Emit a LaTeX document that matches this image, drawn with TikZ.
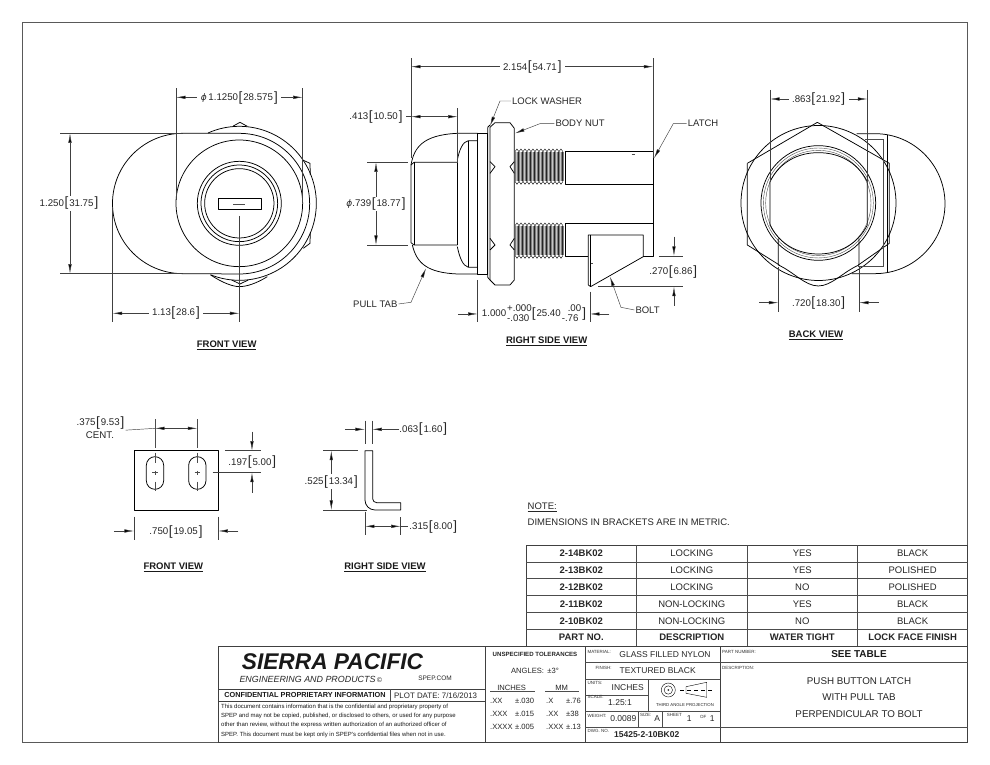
\documentclass[tikz,border=0pt]{standalone}
\usepackage{fontspec}
\setmainfont{Liberation Sans}
\usetikzlibrary{arrows.meta}

\newcommand{\brk}[1]{{\fontsize{13.5}{13.5}\selectfont\raisebox{-0.7pt}{#1}}}
\newcommand{\dimtxt}[2]{#1\kern0.5pt\brk{[}\kern1pt#2\kern1pt\brk{]}}
\newcommand{\tolstk}[2]{\raisebox{-5pt}{\vbox{\baselineskip=10pt\hbox{#1}\hbox{#2}}}}
\newcommand{\dia}{{\itshape\fontspec{DejaVu Sans}\fontsize{9}{9}\selectfont ϕ}}

\tikzset{
  partline/.style={line width=0.75pt, black, line join=round},
  thinline/.style={line width=0.4pt, black!70},
  dimline/.style={line width=0.45pt, black!75, >={Latex[length=9.5pt,width=3.4pt,fill=black]}},
  frameline/.style={line width=1pt, black!65},
  dimlabel/.style={font=\fontsize{9.7}{11}\selectfont, text=black!85, fill=white, inner ysep=1pt, inner xsep=3.5pt},
  leaderlabel/.style={font=\fontsize{9.5}{11}\selectfont, text=black!85, anchor=west, inner sep=1pt},
  viewtitle/.style={font=\fontsize{9.5}{11}\selectfont\bfseries, text=black!90},
  tabcell/.style={font=\fontsize{9.5}{11}\selectfont, text=black!85, inner sep=0pt},
  tabhead/.style={tabcell, font=\fontsize{9.5}{11}\selectfont\bfseries},
  tinylabel/.style={font=\fontsize{4.5}{5}\selectfont, text=black!80, anchor=west, inner sep=0pt},
  blockval/.style={font=\fontsize{8.5}{10}\selectfont, text=black!85, inner sep=0pt},
  blocksmall/.style={font=\fontsize{7.6}{9}\selectfont, text=black!85, inner sep=0pt, anchor=west},
  finetext/.style={font=\fontsize{6}{7}\selectfont, text=black!90, inner sep=0pt, anchor=west}
}

\begin{document}
\begin{tikzpicture}[x=1pt,y=-1pt]
  \useasboundingbox (0,0) rectangle (990,765);
  \fill[white] (0,0) rectangle (990,765);
  % sheet border
  \draw[frameline] (22.3,22.3) rectangle (967.5,742.7);

  % FRONT VIEW
  \begin{scope}[shift={(90,80)},x=0.3333pt,y=-0.3333pt]
    \draw[partline] (278,160) -- (448,160) arc (-90:90:211) -- (278,581) arc (90:270:210.5);
    \draw[partline] (448,370) circle (190);
    \draw[partline] (448,370) ++(-114:231) arc (-114:112:231);
    \draw[partline] (430,138) -- (450,127) -- (472,139);
    \draw[partline] (638,240) -- (660,250) -- (661,285);
    \draw[partline] (661,458) -- (660,490) -- (640,505);
    \draw[partline] (425,600) -- (450,612) -- (475,600);
    \draw[partline] (362,585) .. controls (400,610) and (430,620) .. (448,620) .. controls (470,620) and (500,610) .. (532,590);
    \draw[partline] (448,370) circle (126);
    \draw[partline] (448,370) circle (115);
    \draw[partline] (448,370) circle (104);
    \draw[partline] (385,355) rectangle (513,388);
    \draw[thinline] (430,372) -- (465,372);
    % dimensions
    \draw[dimline] (258,25) -- (258,360);
    \draw[dimline] (638,25) -- (638,370);
    \draw[dimline,<->] (258,52) -- (638,52);
    \node[dimlabel] (diacap) at (448,53) {\dia\,\dimtxt{1.1250}{28.575}};
    \draw[dimline] (-90,160) -- (278,160);
    \draw[dimline] (-90,581) -- (278,581);
    \draw[dimline,<->] (-60,160) -- (-60,581);
    \node[dimlabel] (heightcap) at (-63,370) {\dimtxt{1.250}{31.75}};
    \draw[dimline] (68,380) -- (68,725);
    \draw[dimline] (448,408) -- (448,725);
    \draw[dimline,<->] (68,700) -- (448,700);
    \node[dimlabel] (offsetcap) at (258,699) {\dimtxt{1.13}{28.6}};
    \node[viewtitle] (titlefront) at (410,796) {\underline{FRONT VIEW}};
  \end{scope}

  % RIGHT SIDE VIEW
  \begin{scope}[shift={(340,50)},x=0.3333pt,y=-0.3333pt]
    % pull tab
    \draw[partline] (213,345) .. controls (222,295) and (245,255) .. (352,250) -- (413,250);
    \draw[partline] (217,585) .. controls (230,640) and (262,668) .. (352,672) -- (413,672);
    \draw[partline] (213,345) -- (222,337) -- (352,337);
    \draw[partline] (213,345) -- (213,578) -- (222,585) -- (352,585);
    \draw[partline] (222,337) -- (222,585);
    \draw[partline] (352,250) -- (352,585);
    \draw[partline] (352,330) .. controls (358,300) and (368,275) .. (385,272) -- (413,272);
    \draw[partline] (352,590) .. controls (358,620) and (368,648) .. (385,652) -- (413,652);
    \draw[partline] (385,272) -- (385,652);
    % washer and nut
    \draw[partline] (413,250) rectangle (443,672);
    \draw[partline] (443,232) -- (450,225);
    \draw[partline] (443,232) -- (443,682) -- (450,690);
    \draw[partline] (450,232) -- (465,218) -- (510,218) -- (523,235) -- (523,690) -- (510,705) -- (465,705) -- (450,690) -- cycle;
    \draw[partline] (450,335) -- (465,350) -- (450,370);
    \draw[partline] (523,335) -- (510,350) -- (523,370);
    \draw[partline] (450,565) -- (465,585) -- (450,600);
    \draw[partline] (523,565) -- (510,585) -- (523,600);
    % threads
    \foreach \y in {297,519}{
      \fill[black!50] (525,{\y+8}) rectangle (672,{\y+97});
      \foreach \x in {525,537,...,661}{
        \draw[thinline,black] (\x,{\y+8}) -- ({\x+6},{\y}) -- ({\x+12},{\y+8});
        \draw[thinline,black] (\x,{\y+97}) -- ({\x+6},{\y+106}) -- ({\x+12},{\y+97});
        \draw[black!22,line width=0.5pt] ({\x+3},{\y+8}) -- ({\x+3},{\y+97});
        \draw[black!85,line width=0.5pt] ({\x+9},{\y+8}) -- ({\x+9},{\y+97});
      }
    }
    % latch and bolt
    \draw[partline] (675,304) -- (940,304) -- (940,618) -- (910,618);
    \draw[partline] (675,304) -- (675,402) -- (940,402);
    \draw[partline] (675,520) -- (940,520);
    \draw[partline] (675,520) -- (675,618) -- (745,618);
    \draw[partline] (745,555) -- (910,555) -- (910,620) -- (752,710) -- (745,705) -- cycle;
    \draw[partline] (752,555) -- (752,710);
    \draw[thinline] (875,314) -- (884,314);
    \draw[thinline] (752,640) -- (758,640);
    % dimensions
    \draw[dimline] (213,25) -- (213,325);
    \draw[dimline] (940,25) -- (940,325);
    \draw[dimline,<->] (213,50) -- (940,50);
    \node[dimlabel] (overalllen) at (577,52) {\dimtxt{2.154}{54.71}};
    \draw[dimline] (353,175) -- (353,340);
    \draw[dimline,<->] (213,200) -- (353,200);
    \node[dimlabel,fill=none] (tablen) at (108,200) {\dimtxt{.413}{10.50}};
    \draw[dimline] (tablen.east) -- (213,200);
    \draw[dimline] (82,337) -- (205,337);
    \draw[dimline] (82,585) -- (205,585);
    \draw[dimline,<->] (108,337) -- (108,585);
    \node[dimlabel] (tabdia) at (108,462) {\dia\dimtxt{.739}{18.77}};
    \draw[dimline] (957,618) -- (1028,618);
    \draw[dimline] (775,710) -- (1028,710);
    \draw[dimline,->] (1002,560) -- (1002,618);
    \draw[dimline,->] (1002,768) -- (1002,710);
    \node[dimlabel] (boltlen) at (1000,665) {\dimtxt{.270}{6.86}};
    \draw[dimline] (413,690) -- (413,815);
    \draw[dimline] (750,725) -- (750,815);
    \draw[dimline,->] (355,792) -- (413,792);
    \draw[dimline,->] (808,792) -- (750,792);
    \node[dimlabel,fill=none] (panelgap) at (582,790) {1.000\kern1pt\tolstk{+.000}{-.030}\brk{[}\kern1pt25.40\kern1pt\tolstk{\kern6pt.00}{-.76}\kern1pt\brk{]}};
    % callouts
    \node[leaderlabel] (lblwasher) at (513,153) {LOCK WASHER};
    \draw[dimline,->] (lblwasher.west) -- (480,153) -- (450,228);
    \node[leaderlabel] (lblnut) at (643,221) {BODY NUT};
    \draw[dimline,->] (lblnut.west) -- (600,221) -- (525,250);
    \node[leaderlabel] (lbllatch) at (1040,221) {LATCH};
    \draw[dimline,->] (lbllatch.west) -- (1000,221) -- (942,325);
    \node[leaderlabel] (lbltab) at (36,762) {PULL TAB};
    \draw[dimline,->] (lbltab.east) -- (213,757) -- (258,655);
    \node[leaderlabel] (lblbolt) at (883,780) {BOLT};
    \draw[dimline,->] (lblbolt.west) -- (843,772) -- (810,680);
    \node[viewtitle] (titleside) at (620,875) {\underline{RIGHT SIDE VIEW}};
  \end{scope}

  % BACK VIEW
  \begin{scope}[shift={(730,80)},x=0.3333pt,y=-0.3333pt]
    \draw[partline] (265.5,369) circle (232.5);
    \draw[partline] (52,250) -- (262,127) -- (478,250) -- (478,490) -- (385,555);
    \draw[partline] (52,250) -- (52,495) -- (148,555);
    \draw[partline] (380,161) -- (435,161) arc (-90:90:210) -- (365,581);
    \draw[partline] (472,165) -- (472,578);
    \draw[thinline,line width=0.8pt] (405,178) -- (460,178) -- (460,560) -- (385,560);
    \draw[partline] (265,369) circle (172);
    \draw[thinline] (265,369) circle (165);
    \draw[thinline] (265,369) circle (158);
    \draw[partline] (120,305) .. controls (150,245) and (205,218) .. (265,218) .. controls (325,218) and (382,245) .. (412,305) -- (412,435) .. controls (382,495) and (325,522) .. (265,522) .. controls (205,522) and (150,495) .. (120,435) -- cycle;
    \draw[partline] (145,475) -- (145,555) .. controls (190,575) and (225,618) .. (265,618) .. controls (305,618) and (340,575) .. (387,555) -- (387,475);
    % dimensions
    \draw[dimline] (120,30) -- (120,305);
    \draw[dimline] (412,30) -- (412,305);
    \draw[dimline,<->] (120,57) -- (412,57);
    \node[dimlabel] (flatswide) at (266,58) {\dimtxt{.863}{21.92}};
    \draw[dimline] (145,560) -- (145,695);
    \draw[dimline] (387,560) -- (387,695);
    \draw[dimline,->] (88,668) -- (145,668);
    \draw[dimline,->] (447,668) -- (387,668);
    \node[dimlabel] (boltwide) at (266,670) {\dimtxt{.720}{18.30}};
    \node[viewtitle] (titleback) at (258,765) {\underline{BACK VIEW}};
  \end{scope}

  % PULL TAB FRONT VIEW
  \begin{scope}[shift={(60,400)},x=0.3333pt,y=-0.3333pt]
    \draw[partline] (222,152) rectangle (475,330);
    \foreach \x in {285,412}{
      \draw[partline] ({\x-26},196) arc (180:360:26) -- ({\x+26},242) arc (0:180:26) -- cycle;
      \draw[thinline] (\x,58) -- (\x,145);
      \draw[thinline] (\x,158) -- (\x,190);
      \draw[thinline] (\x,212) -- (\x,224);
      \draw[thinline] (\x,245) -- (\x,274);
      \draw[thinline] ({\x-8},218) -- ({\x+8},218);
    }
    \draw[dimline,<->] (285,85) -- (412,85);
    \node[dimlabel,fill=none,anchor=east,inner xsep=1pt] (slotpitch) at (197,68) {\dimtxt{.375}{9.53}};
    \draw[dimline] (slotpitch.south east) -- (285,85);
    \node[dimlabel,fill=none] (slotnote) at (120,105) {CENT.};
    \draw[dimline] (495,152) -- (603,152);
    \draw[dimline] (458,218) -- (603,218);
    \draw[dimline,->] (576,95) -- (576,152);
    \draw[dimline,->] (576,278) -- (576,218);
    \node[dimlabel] (slotdrop) at (577,187) {\dimtxt{.197}{5.00}};
    \draw[dimline] (222,350) -- (222,420);
    \draw[dimline] (475,350) -- (475,420);
    \draw[dimline,->] (162,393) -- (222,393);
    \draw[dimline,->] (535,393) -- (475,393);
    \node[dimlabel] (tabwide) at (348,395) {\dimtxt{.750}{19.05}};
    \node[viewtitle] (titletabfront) at (340,502) {\underline{FRONT VIEW}};
    % PULL TAB SIDE VIEW
    \draw[partline] (915,152) -- (915,300) arc (180:90:30) -- (1022,330) -- (1022,308) -- (950,308) arc (90:180:12) -- (938,152) -- cycle;
    \draw[dimline] (915,62) -- (915,132);
    \draw[dimline] (937,62) -- (937,132);
    \draw[dimline,->] (855,88) -- (915,88);
    \draw[dimline,->] (1018,88) -- (937,88);
    \node[dimlabel,fill=none] (tabthick) at (1090,88) {\dimtxt{.063}{1.60}};
    \draw[dimline] (790,152) -- (895,152);
    \draw[dimline] (790,330) -- (920,330);
    \draw[dimline,<->] (814,152) -- (814,330);
    \node[dimlabel] (tabtall) at (814,245) {\dimtxt{.525}{13.34}};
    \draw[dimline] (915,335) -- (915,405);
    \draw[dimline] (1022,352) -- (1022,405);
    \draw[dimline,<->] (915,379) -- (1022,379);
    \draw[dimline] (1022,379) -- (1045,379);
    \node[dimlabel,fill=none] (tabfoot) at (1120,381) {\dimtxt{.315}{8.00}};
    \node[viewtitle] (titletabside) at (975,502) {\underline{RIGHT SIDE VIEW}};
  \end{scope}

  % note
  \node[tabcell,anchor=west] (notehead) at (527.5,507.5) {\underline{NOTE:}};
  \node[tabcell,anchor=west] (notebody) at (527.5,522.5) {DIMENSIONS IN BRACKETS ARE IN METRIC.};

  % parts table
  \draw[frameline,black!75] (526,545) rectangle (967.5,646);
  \foreach \y in {561.8,578.7,595.5,612.3,629.2}{
    \draw[thinline,line width=0.6pt] (526,\y) -- (967.5,\y);
  }
  \foreach \x in {636.7,747,857.7}{
    \draw[thinline,line width=0.6pt] (\x,545) -- (\x,646);
  }
  \foreach \i/\pn/\desc/\wt/\fin in {0/2-14BK02/LOCKING/YES/BLACK,
      1/2-13BK02/LOCKING/YES/POLISHED,
      2/2-12BK02/LOCKING/NO/POLISHED,
      3/2-11BK02/NON-LOCKING/YES/BLACK,
      4/2-10BK02/NON-LOCKING/NO/BLACK}{
    \node[tabhead] (pn\i) at (581.3,{553.4+16.85*\i}) {\pn};
    \node[tabcell] (desc\i) at (691.8,{553.4+16.85*\i}) {\desc};
    \node[tabcell] (wt\i) at (802.3,{553.4+16.85*\i}) {\wt};
    \node[tabcell] (fin\i) at (912.6,{553.4+16.85*\i}) {\fin};
  }
  \node[tabhead] (headpn) at (581.3,637.6) {PART NO.};
  \node[tabhead] (headdesc) at (691.8,637.6) {DESCRIPTION};
  \node[tabhead] (headwt) at (802.3,637.6) {WATER TIGHT};
  \node[tabhead] (headfin) at (912.6,637.6) {LOCK FACE FINISH};

  % title block
  \draw[frameline,black!75] (218.3,646) rectangle (967.5,742.7);
  \draw[frameline,black!75] (218.3,689) -- (485,689);
  \draw[frameline,black!75] (218.3,701) -- (485,701);
  \draw[thinline] (390,689) -- (390,701);
  \draw[frameline,black!75] (485,646) -- (485,742.7);
  \draw[frameline,black!75] (585,646) -- (585,742.7);
  \draw[frameline,black!75] (720,646) -- (720,742.7);
  \draw[thinline,line width=0.7pt] (585,662.7) -- (720,662.7);
  \draw[thinline,line width=0.7pt] (585,679) -- (720,679);
  \draw[thinline,line width=0.7pt] (585,695) -- (648,695);
  \draw[thinline,line width=0.7pt] (585,711) -- (720,711);
  \draw[thinline,line width=0.7pt] (585,727) -- (720,727);
  \draw[thinline,line width=0.7pt] (648,679) -- (648,711);
  \draw[thinline,line width=0.7pt] (638,711) -- (638,727);
  \draw[thinline,line width=0.7pt] (662,711) -- (662,727);
  \draw[thinline,line width=0.7pt] (720,662.7) -- (967.5,662.7);
  \draw[thinline,line width=0.7pt] (720,727.3) -- (967.5,727.3);

  \node[anchor=west,inner sep=0pt,text=black!90,font=\fontsize{22.7}{24}\selectfont\bfseries\itshape] (logo) at (241.7,661.7) {SIERRA PACIFIC};
  \node[anchor=west,inner sep=0pt,text=black!85,font=\fontsize{8.9}{10}\selectfont\itshape] (logosub) at (239.3,679) {ENGINEERING AND PRODUCTS\,{\fontsize{7}{8}\selectfont\textcopyright}};
  \node[inner sep=0pt,text=black!85,font=\fontsize{6.5}{8}\selectfont] (website) at (435,678.5) {SPEP.COM};
  \node[inner sep=0pt,text=black!90,font=\fontsize{7.3}{8}\selectfont\bfseries] (confid) at (305,695.2) {CONFIDENTIAL PROPRIETARY INFORMATION};
  \node[blocksmall,font=\fontsize{7.9}{9}\selectfont] (plotdate) at (394,695.2) {PLOT DATE: 7/16/2013};
  \node[finetext] (fine1) at (221,706.7) {This document contains information that is the confidential and proprietary property of};
  \node[finetext] (fine2) at (221,716) {SPEP and may not be copied, published, or disclosed to others, or used for any purpose};
  \node[finetext] (fine3) at (221,725.2) {other than review, without the express written authorization of an authorized officer of};
  \node[finetext] (fine4) at (221,734.8) {SPEP. This document must be kept only in SPEP's confidential files when not in use.};

  % tolerances
  \node[blocksmall,anchor=center,font=\fontsize{6.1}{7}\selectfont\bfseries] (tolhead) at (535,654) {UNSPECIFIED TOLERANCES};
  \node[blocksmall,anchor=center] (tolangle) at (535,671) {ANGLES: \,±3°};
  \node[blocksmall,anchor=center] (tolinch) at (511.7,687.5) {INCHES};
  \node[blocksmall,anchor=center] (tolmm) at (561.7,687.5) {MM};
  \draw[thinline,line width=0.6pt] (490,691.7) -- (535,691.7);
  \draw[thinline,line width=0.6pt] (545,691.7) -- (578.5,691.7);
  \node[blocksmall] (tola1) at (490,701) {.XX};
  \node[blocksmall] (tolb1) at (515,701) {±.030};
  \node[blocksmall] (tolc1) at (546,701) {.X};
  \node[blocksmall] (told1) at (566,701) {±.76};
  \node[blocksmall] (tola2) at (490,714.3) {.XXX};
  \node[blocksmall] (tolb2) at (515,714.3) {±.015};
  \node[blocksmall] (tolc2) at (546,714.3) {.XX};
  \node[blocksmall] (told2) at (566,714.3) {±38};
  \node[blocksmall] (tola3) at (490,727.3) {.XXXX};
  \node[blocksmall] (tolb3) at (515,727.3) {±.005};
  \node[blocksmall] (tolc3) at (546,727.3) {.XXX};
  \node[blocksmall] (told3) at (566,727.3) {±.13};

  % drawing data
  \node[tinylabel] (tagmat) at (587.3,651.5) {MATERIAL:};
  \node[blockval] (valmat) at (665,655) {GLASS FILLED NYLON};
  \node[tinylabel] (tagfin) at (595.5,668) {FINISH:};
  \node[blockval] (valfin) at (657.7,670.7) {TEXTURED BLACK};
  \node[tinylabel] (tagunits) at (587.3,682.7) {UNITS:};
  \node[blockval] (valunits) at (627.7,687.7) {INCHES};
  \node[tinylabel] (tagscale) at (587.3,697.3) {SCALE:};
  \node[blockval] (valscale) at (620,702.7) {1.25:1};
  \node[tinylabel] (tagwt) at (587.3,715.5) {WEIGHT:};
  \node[blockval] (valwt) at (623.3,718.3) {0.0089};
  \node[tinylabel] (tagsize) at (640,715) {SIZE:};
  \node[blockval] (valsize) at (657.3,718.3) {A};
  \node[tinylabel] (tagsheet) at (666.7,715) {SHEET};
  \node[blockval] (valsheet) at (689.3,718.3) {1};
  \node[tinylabel] (tagof) at (700,717) {OF};
  \node[blockval] (valof) at (712.3,718.3) {1};
  \node[tinylabel] (tagdwg) at (587.3,730.7) {DWG. NO.};
  \node[blockval,font=\fontsize{8.5}{10}\selectfont\bfseries] (valdwg) at (646.7,735) {15425-2-10BK02};
  \node[inner sep=0pt,text=black!85,font=\fontsize{4.3}{5}\selectfont] (thirdangle) at (685,705) {THIRD ANGLE PROJECTION};
  \draw[thinline,black] (668.3,690) circle (7);
  \draw[thinline,black] (668.3,690) circle (4.2);
  \fill[black!80] (668.3,690) circle (1);
  \draw[thinline,black] (686,686.7) -- (706.7,682.3) -- (706.7,697.3) -- (686,693.3) -- cycle;
  \draw[thinline,black,dash pattern=on 4pt off 3pt] (680,690) -- (712,690);

  % part number and description
  \node[tinylabel] (tagpart) at (722,651.7) {PART NUMBER:};
  \node[inner sep=0pt,text=black!90,font=\fontsize{10}{11}\selectfont\bfseries] (valpart) at (859,654.5) {SEE TABLE};
  \node[tinylabel] (tagdesc) at (722,667.7) {DESCRIPTION:};
  \node[inner sep=0pt,text=black!85,font=\fontsize{9.8}{11}\selectfont] (descline1) at (859,681) {PUSH BUTTON LATCH};
  \node[inner sep=0pt,text=black!85,font=\fontsize{9.8}{11}\selectfont] (descline2) at (859,697.5) {WITH PULL TAB};
  \node[inner sep=0pt,text=black!85,font=\fontsize{9.8}{11}\selectfont] (descline3) at (859,714) {PERPENDICULAR TO BOLT};
\end{tikzpicture}
\end{document}
